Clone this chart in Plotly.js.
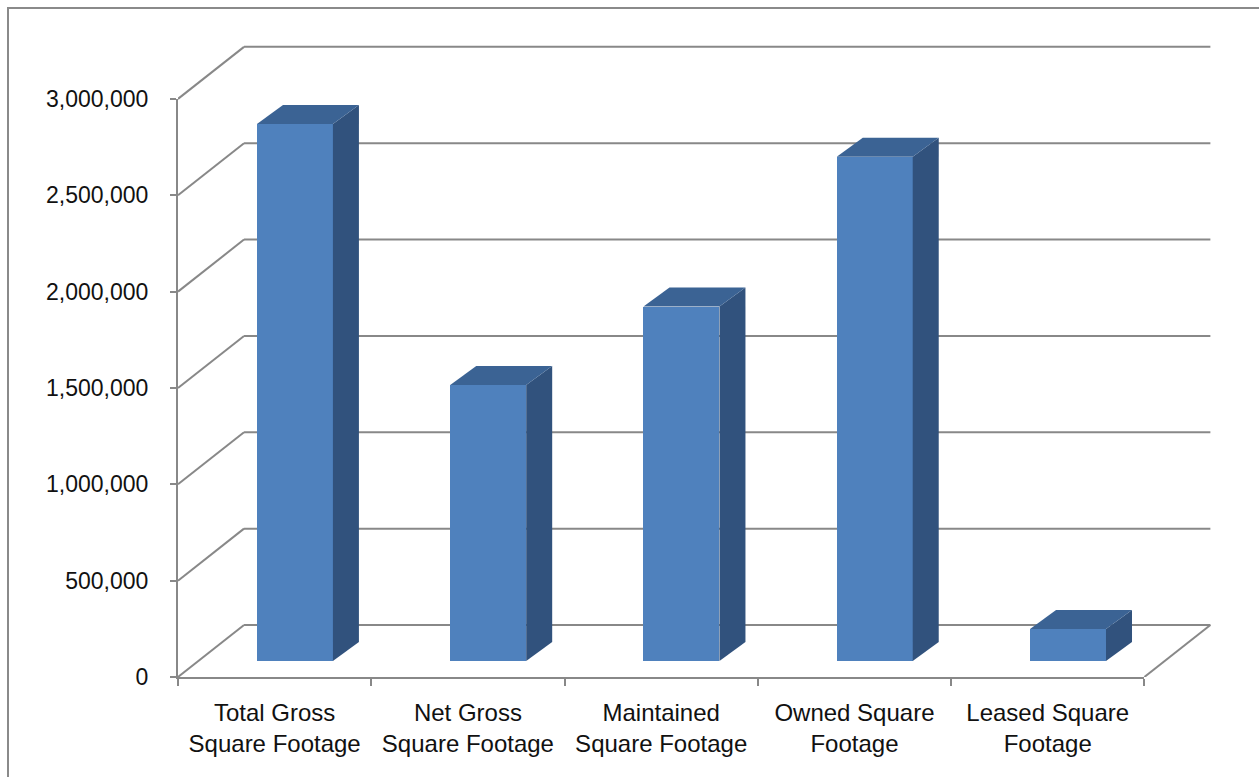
<!DOCTYPE html>
<html>
<head>
<meta charset="utf-8">
<script src="https://cdn.plot.ly/plotly-3.0.1.min.js"></script>
<style>
  html, body { margin: 0; padding: 0; background: #ffffff; overflow: hidden; }
  #chart { width: 1259px; height: 777px; position: absolute; left: 0; top: 0; }
  #frame { position: absolute; left: 7px; top: 7px; width: 1400px; height: 900px;
           border: 2px solid #8a8a8a; pointer-events: none; }
</style>
</head>
<body>
<div id="chart"></div>
<div id="frame"></div>
<script>
// ---- data ----
const categories = ['Total Gross Square Footage', 'Net Gross Square Footage',
  'Maintained Square Footage', 'Owned Square Footage', 'Leased Square Footage'];
const tickLabels = ['Total Gross<br>Square Footage', 'Net Gross<br>Square Footage',
  'Maintained<br>Square Footage', 'Owned Square<br>Footage', 'Leased Square<br>Footage'];
const values = [2787000, 1432000, 1839000, 2617000, 166000];
const yTicks = [0, 500000, 1000000, 1500000, 2000000, 2500000, 3000000];

// ---- 3D projection constants (axis units) ----
const N = categories.length;
const YMAX = 3000000;
const DX = 0.3416;     // wall depth, x units
const DY = 269900;     // wall depth, y units
const BX = 0.105;      // bar front plane offset
const BY = 83000;
const BW = 0.393;      // bar width
const BDX = 0.1346;    // bar depth
const BDY = 98600;

const FRONT = '#4F81BD', SIDE = '#31527D', TOP = '#3B6394', GRID = '#888888';

const xs = categories.map((c, i) => i + 0.5 + BX);
const traces = [];
traces.push({
  type: 'bar', x: xs, y: values, base: values.map(() => BY), width: BW,
  marker: { color: FRONT, line: { width: 0 } }, hoverinfo: 'skip', showlegend: false
});
values.forEach((v, i) => {
  const xl = xs[i] - BW / 2, xr = xs[i] + BW / 2, b = BY, t = BY + v;
  traces.push({
    type: 'scatter', mode: 'lines', fill: 'toself', fillcolor: SIDE,
    x: [xr, xr + BDX, xr + BDX, xr, xr], y: [b, b + BDY, t + BDY, t, b],
    line: { width: 0, color: SIDE }, hoverinfo: 'skip', showlegend: false
  });
  traces.push({
    type: 'scatter', mode: 'lines', fill: 'toself', fillcolor: TOP,
    x: [xl, xr, xr + BDX, xl + BDX, xl], y: [t, t, t + BDY, t + BDY, t],
    line: { width: 0, color: TOP }, hoverinfo: 'skip', showlegend: false
  });
});
// invisible trace for second subplot (axes only)
traces.push({ type: 'scatter', x: [0], y: [0], xaxis: 'x2', yaxis: 'y2', mode: 'markers',
  marker: { opacity: 0 }, hoverinfo: 'skip', showlegend: false });

const shapes = [];
yTicks.forEach(v => {
  shapes.push({ type: 'line', xref: 'x', yref: 'y', x0: 0, y0: v, x1: DX, y1: v + DY,
    line: { color: GRID, width: 2 }, layer: 'below' });
  shapes.push({ type: 'line', xref: 'x', yref: 'y', x0: DX, y0: v + DY, x1: N + DX, y1: v + DY,
    line: { color: GRID, width: 2 }, layer: 'below' });
});
shapes.push({ type: 'line', xref: 'x', yref: 'y', x0: N, y0: 0, x1: N + DX, y1: DY,
  line: { color: GRID, width: 2 }, layer: 'below' });

const XR = N + 0.35, YR = 3290000;
const font = { family: '"Liberation Sans", Arial, sans-serif', color: '#111111' };

const layout = {
  width: 1259, height: 777,
  margin: { l: 178, r: 1259 - 178 - XR * 193.2, t: 677 - YR * 192.67e-6, b: 100 },
  paper_bgcolor: 'rgba(0,0,0,0)', plot_bgcolor: 'rgba(0,0,0,0)',
  showlegend: false, bargap: 0,
  xaxis: { range: [0, XR], tickvals: categories.map((c, i) => i + 0.5), ticktext: tickLabels,
    ticks: '', showgrid: false, zeroline: false, showline: false, fixedrange: true,
    ticklabelstandoff: 19, tickfont: Object.assign({ size: 24 }, font) },
  yaxis: { range: [0, YR], showticklabels: false, ticks: '', showgrid: false, zeroline: false,
    showline: false, fixedrange: true },
  xaxis2: { domain: [0, N / XR], range: [0, N], anchor: 'y2', tickvals: [0, 1, 2, 3, 4, 5],
    showticklabels: false, ticks: 'outside', ticklen: 7, tickwidth: 2, tickcolor: GRID,
    showline: true, linecolor: GRID, linewidth: 2, showgrid: false, zeroline: false, fixedrange: true },
  yaxis2: { domain: [0, YMAX / YR], range: [0, YMAX], anchor: 'x2', tickvals: yTicks,
    tickformat: ',d', ticks: 'outside', ticklen: 6, tickwidth: 2, tickcolor: GRID,
    showline: true, linecolor: GRID, linewidth: 2, showgrid: false, zeroline: false,
    ticklabelstandoff: 17, tickfont: Object.assign({ size: 23 }, font), fixedrange: true },
  shapes: shapes
};

Plotly.newPlot('chart', traces, layout, { displayModeBar: false, staticPlot: true });
</script>
</body>
</html>
